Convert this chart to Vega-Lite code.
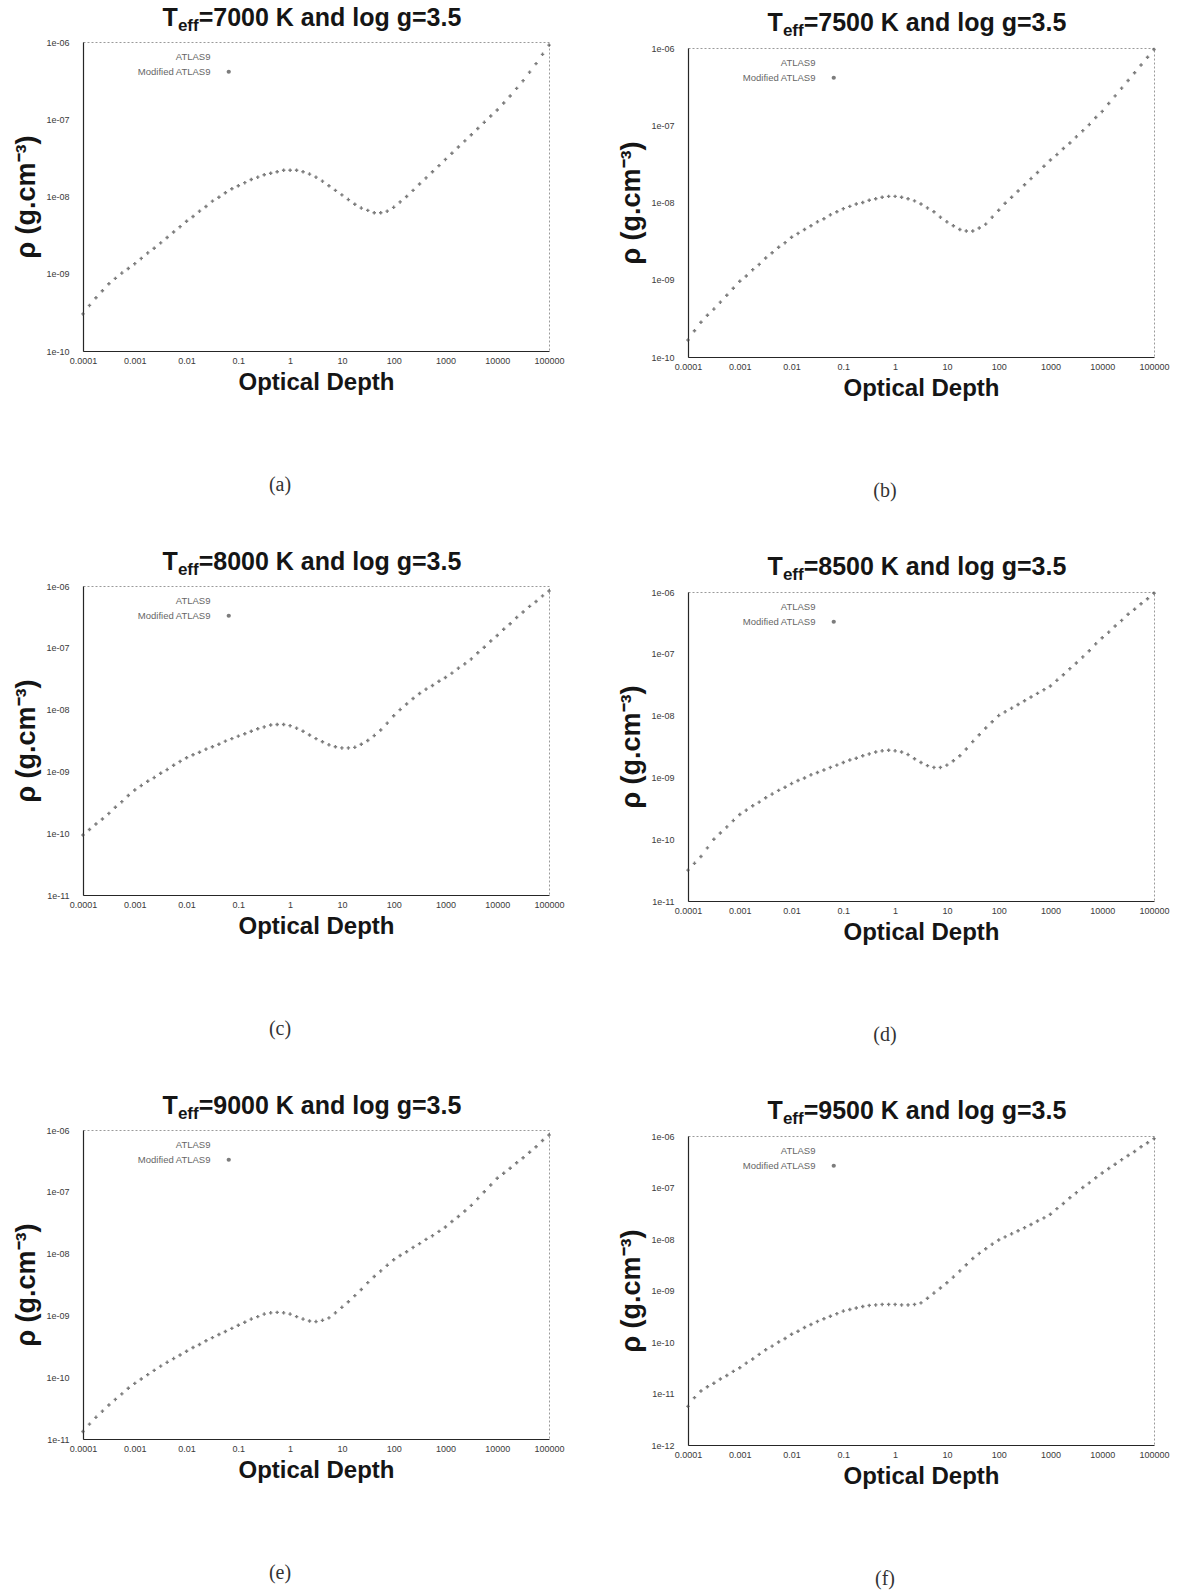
{
  "$schema": "https://vega.github.io/schema/vega-lite/v6.json",
  "background": "white",
  "padding": {"left": 12, "top": 6, "right": 2, "bottom": 2},
  "datasets": {
    "rho": [
      {"tau": 0.0001, "a": 3.02e-10, "b": 1.66e-10, "c": 9.33e-11, "d": 3.16e-11, "e": 1.32e-11, "f": 5.62e-12},
      {"tau": 0.0001334, "a": 3.89e-10, "b": 2.19e-10, "c": 1.15e-10, "d": 4.07e-11, "e": 1.74e-11, "f": 8.32e-12},
      {"tau": 0.0001778, "a": 4.90e-10, "b": 2.82e-10, "c": 1.41e-10, "d": 5.25e-11, "e": 2.24e-11, "f": 1.12e-11},
      {"tau": 0.0002371, "a": 6.03e-10, "b": 3.47e-10, "c": 1.70e-10, "d": 7.24e-11, "e": 2.82e-11, "f": 1.35e-11},
      {"tau": 0.0003162, "a": 7.41e-10, "b": 4.17e-10, "c": 2.09e-10, "d": 1.00e-10, "e": 3.55e-11, "f": 1.58e-11},
      {"tau": 0.0004217, "a": 8.71e-10, "b": 5.13e-10, "c": 2.63e-10, "d": 1.26e-10, "e": 4.37e-11, "f": 1.91e-11},
      {"tau": 0.0005623, "a": 1.02e-9, "b": 6.31e-10, "c": 3.24e-10, "d": 1.58e-10, "e": 5.37e-11, "f": 2.24e-11},
      {"tau": 0.0007499, "a": 1.17e-9, "b": 7.76e-10, "c": 4.07e-10, "d": 2.00e-10, "e": 6.61e-11, "f": 2.69e-11},
      {"tau": 0.001, "a": 1.35e-9, "b": 9.55e-10, "c": 5.01e-10, "d": 2.51e-10, "e": 7.94e-11, "f": 3.16e-11},
      {"tau": 0.001334, "a": 1.58e-9, "b": 1.12e-9, "c": 5.89e-10, "d": 2.95e-10, "e": 9.33e-11, "f": 3.89e-11},
      {"tau": 0.001778, "a": 1.86e-9, "b": 1.35e-9, "c": 6.92e-10, "d": 3.47e-10, "e": 1.10e-10, "f": 4.68e-11},
      {"tau": 0.002371, "a": 2.14e-9, "b": 1.58e-9, "c": 7.94e-10, "d": 3.98e-10, "e": 1.29e-10, "f": 5.75e-11},
      {"tau": 0.003162, "a": 2.51e-9, "b": 1.91e-9, "c": 9.33e-10, "d": 4.68e-10, "e": 1.51e-10, "f": 7.08e-11},
      {"tau": 0.004217, "a": 2.95e-9, "b": 2.24e-9, "c": 1.07e-9, "d": 5.37e-10, "e": 1.74e-10, "f": 8.32e-11},
      {"tau": 0.005623, "a": 3.47e-9, "b": 2.63e-9, "c": 1.26e-9, "d": 6.17e-10, "e": 2.00e-10, "f": 1.00e-10},
      {"tau": 0.007499, "a": 4.07e-9, "b": 3.02e-9, "c": 1.45e-9, "d": 6.92e-10, "e": 2.29e-10, "f": 1.17e-10},
      {"tau": 0.01, "a": 4.79e-9, "b": 3.55e-9, "c": 1.66e-9, "d": 7.94e-10, "e": 2.63e-10, "f": 1.41e-10},
      {"tau": 0.01334, "a": 5.50e-9, "b": 3.98e-9, "c": 1.86e-9, "d": 8.91e-10, "e": 3.02e-10, "f": 1.62e-10},
      {"tau": 0.01778, "a": 6.46e-9, "b": 4.47e-9, "c": 2.04e-9, "d": 9.77e-10, "e": 3.39e-10, "f": 1.91e-10},
      {"tau": 0.02371, "a": 7.41e-9, "b": 5.01e-9, "c": 2.29e-9, "d": 1.10e-9, "e": 3.89e-10, "f": 2.19e-10},
      {"tau": 0.03162, "a": 8.71e-9, "b": 5.62e-9, "c": 2.51e-9, "d": 1.20e-9, "e": 4.37e-10, "f": 2.51e-10},
      {"tau": 0.04217, "a": 9.77e-9, "b": 6.17e-9, "c": 2.75e-9, "d": 1.32e-9, "e": 4.90e-10, "f": 2.82e-10},
      {"tau": 0.05623, "a": 1.12e-8, "b": 6.92e-9, "c": 3.09e-9, "d": 1.45e-9, "e": 5.50e-10, "f": 3.16e-10},
      {"tau": 0.07499, "a": 1.26e-8, "b": 7.59e-9, "c": 3.39e-9, "d": 1.58e-9, "e": 6.17e-10, "f": 3.55e-10},
      {"tau": 0.1, "a": 1.38e-8, "b": 8.32e-9, "c": 3.72e-9, "d": 1.74e-9, "e": 6.92e-10, "f": 3.98e-10},
      {"tau": 0.1334, "a": 1.51e-8, "b": 8.91e-9, "c": 4.07e-9, "d": 1.91e-9, "e": 7.76e-10, "f": 4.27e-10},
      {"tau": 0.1778, "a": 1.66e-8, "b": 9.55e-9, "c": 4.47e-9, "d": 2.04e-9, "e": 8.71e-10, "f": 4.57e-10},
      {"tau": 0.2371, "a": 1.78e-8, "b": 1.00e-8, "c": 4.90e-9, "d": 2.24e-9, "e": 9.55e-10, "f": 4.90e-10},
      {"tau": 0.3162, "a": 1.91e-8, "b": 1.07e-8, "c": 5.25e-9, "d": 2.40e-9, "e": 1.05e-9, "f": 5.13e-10},
      {"tau": 0.4217, "a": 2.00e-8, "b": 1.12e-8, "c": 5.62e-9, "d": 2.57e-9, "e": 1.10e-9, "f": 5.25e-10},
      {"tau": 0.5623, "a": 2.09e-8, "b": 1.17e-8, "c": 5.75e-9, "d": 2.69e-9, "e": 1.12e-9, "f": 5.37e-10},
      {"tau": 0.7499, "a": 2.19e-8, "b": 1.20e-8, "c": 5.75e-9, "d": 2.75e-9, "e": 1.10e-9, "f": 5.37e-10},
      {"tau": 1, "a": 2.19e-8, "b": 1.20e-8, "c": 5.50e-9, "d": 2.69e-9, "e": 1.05e-9, "f": 5.37e-10},
      {"tau": 1.334, "a": 2.19e-8, "b": 1.17e-8, "c": 5.01e-9, "d": 2.57e-9, "e": 9.55e-10, "f": 5.25e-10},
      {"tau": 1.778, "a": 2.09e-8, "b": 1.12e-8, "c": 4.47e-9, "d": 2.34e-9, "e": 8.71e-10, "f": 5.25e-10},
      {"tau": 2.371, "a": 1.95e-8, "b": 1.05e-8, "c": 3.89e-9, "d": 2.00e-9, "e": 8.13e-10, "f": 5.37e-10},
      {"tau": 3.162, "a": 1.78e-8, "b": 9.55e-9, "c": 3.39e-9, "d": 1.74e-9, "e": 7.94e-10, "f": 5.75e-10},
      {"tau": 4.217, "a": 1.58e-8, "b": 8.51e-9, "c": 3.02e-9, "d": 1.55e-9, "e": 8.32e-10, "f": 7.08e-10},
      {"tau": 5.623, "a": 1.38e-8, "b": 7.59e-9, "c": 2.69e-9, "d": 1.45e-9, "e": 9.12e-10, "f": 8.91e-10},
      {"tau": 7.499, "a": 1.20e-8, "b": 6.46e-9, "c": 2.51e-9, "d": 1.45e-9, "e": 1.10e-9, "f": 1.12e-9},
      {"tau": 10, "a": 1.05e-8, "b": 5.62e-9, "c": 2.40e-9, "d": 1.58e-9, "e": 1.35e-9, "f": 1.41e-9},
      {"tau": 13.34, "a": 9.12e-9, "b": 5.01e-9, "c": 2.40e-9, "d": 1.86e-9, "e": 1.66e-9, "f": 1.82e-9},
      {"tau": 17.78, "a": 7.94e-9, "b": 4.47e-9, "c": 2.45e-9, "d": 2.24e-9, "e": 2.09e-9, "f": 2.40e-9},
      {"tau": 23.71, "a": 7.08e-9, "b": 4.27e-9, "c": 2.75e-9, "d": 2.88e-9, "e": 2.63e-9, "f": 3.16e-9},
      {"tau": 31.62, "a": 6.61e-9, "b": 4.27e-9, "c": 3.16e-9, "d": 3.80e-9, "e": 3.39e-9, "f": 4.17e-9},
      {"tau": 42.17, "a": 6.17e-9, "b": 4.68e-9, "c": 3.80e-9, "d": 4.90e-9, "e": 4.27e-9, "f": 5.25e-9},
      {"tau": 56.23, "a": 6.17e-9, "b": 5.25e-9, "c": 4.68e-9, "d": 6.31e-9, "e": 5.25e-9, "f": 6.46e-9},
      {"tau": 74.99, "a": 6.46e-9, "b": 6.46e-9, "c": 6.03e-9, "d": 7.94e-9, "e": 6.46e-9, "f": 7.94e-9},
      {"tau": 100, "a": 7.24e-9, "b": 7.94e-9, "c": 7.94e-9, "d": 1.00e-8, "e": 7.94e-9, "f": 9.55e-9},
      {"tau": 133.4, "a": 8.51e-9, "b": 9.77e-9, "c": 1.00e-8, "d": 1.15e-8, "e": 9.33e-9, "f": 1.10e-8},
      {"tau": 177.8, "a": 1.00e-8, "b": 1.17e-8, "c": 1.23e-8, "d": 1.32e-8, "e": 1.07e-8, "f": 1.26e-8},
      {"tau": 237.1, "a": 1.20e-8, "b": 1.41e-8, "c": 1.51e-8, "d": 1.51e-8, "e": 1.26e-8, "f": 1.45e-8},
      {"tau": 316.2, "a": 1.45e-8, "b": 1.70e-8, "c": 1.82e-8, "d": 1.74e-8, "e": 1.45e-8, "f": 1.66e-8},
      {"tau": 421.7, "a": 1.74e-8, "b": 2.04e-8, "c": 2.14e-8, "d": 2.00e-8, "e": 1.70e-8, "f": 1.91e-8},
      {"tau": 562.3, "a": 2.09e-8, "b": 2.45e-8, "c": 2.45e-8, "d": 2.29e-8, "e": 1.95e-8, "f": 2.24e-8},
      {"tau": 749.9, "a": 2.51e-8, "b": 2.95e-8, "c": 2.88e-8, "d": 2.63e-8, "e": 2.29e-8, "f": 2.57e-8},
      {"tau": 1000, "a": 3.02e-8, "b": 3.55e-8, "c": 3.31e-8, "d": 3.02e-8, "e": 2.69e-8, "f": 3.02e-8},
      {"tau": 1334, "a": 3.63e-8, "b": 4.17e-8, "c": 3.89e-8, "d": 3.72e-8, "e": 3.31e-8, "f": 3.89e-8},
      {"tau": 1778, "a": 4.37e-8, "b": 5.01e-8, "c": 4.68e-8, "d": 4.57e-8, "e": 3.98e-8, "f": 4.90e-8},
      {"tau": 2371, "a": 5.25e-8, "b": 5.89e-8, "c": 5.50e-8, "d": 5.75e-8, "e": 4.90e-8, "f": 6.31e-8},
      {"tau": 3162, "a": 6.31e-8, "b": 7.08e-8, "c": 6.61e-8, "d": 7.08e-8, "e": 6.03e-8, "f": 7.94e-8},
      {"tau": 4217, "a": 7.59e-8, "b": 8.51e-8, "c": 8.32e-8, "d": 8.91e-8, "e": 7.76e-8, "f": 1.00e-7},
      {"tau": 5623, "a": 9.12e-8, "b": 1.02e-7, "c": 1.02e-7, "d": 1.12e-7, "e": 1.00e-7, "f": 1.23e-7},
      {"tau": 7499, "a": 1.10e-7, "b": 1.26e-7, "c": 1.29e-7, "d": 1.45e-7, "e": 1.29e-7, "f": 1.55e-7},
      {"tau": 10000, "a": 1.32e-7, "b": 1.51e-7, "c": 1.58e-7, "d": 1.82e-7, "e": 1.66e-7, "f": 1.91e-7},
      {"tau": 13340, "a": 1.62e-7, "b": 1.91e-7, "c": 2.00e-7, "d": 2.24e-7, "e": 2.00e-7, "f": 2.34e-7},
      {"tau": 17780, "a": 2.00e-7, "b": 2.40e-7, "c": 2.45e-7, "d": 2.82e-7, "e": 2.40e-7, "f": 2.82e-7},
      {"tau": 23710, "a": 2.51e-7, "b": 3.02e-7, "c": 3.09e-7, "d": 3.47e-7, "e": 2.95e-7, "f": 3.47e-7},
      {"tau": 31620, "a": 3.16e-7, "b": 3.80e-7, "c": 3.80e-7, "d": 4.37e-7, "e": 3.55e-7, "f": 4.17e-7},
      {"tau": 42170, "a": 4.07e-7, "b": 4.79e-7, "c": 4.68e-7, "d": 5.25e-7, "e": 4.37e-7, "f": 5.01e-7},
      {"tau": 56230, "a": 5.25e-7, "b": 6.03e-7, "c": 5.62e-7, "d": 6.46e-7, "e": 5.37e-7, "f": 6.17e-7},
      {"tau": 74990, "a": 6.92e-7, "b": 7.59e-7, "c": 6.92e-7, "d": 7.76e-7, "e": 6.76e-7, "f": 7.41e-7},
      {"tau": 100000, "a": 9.12e-7, "b": 9.55e-7, "c": 8.32e-7, "d": 9.55e-7, "e": 8.32e-7, "f": 8.91e-7}
    ]
  },
  "config": {
    "view": {"stroke": null},
    "text": {"font": "Liberation Sans", "fontWeight": "bold", "color": "#151515", "baseline": "middle"},
    "axis": {
      "labelFont": "Liberation Sans", "labelFontSize": 9, "labelColor": "#3a3a3a",
      "labelOverlap": false, "labelBound": false, "labelFlush": false,
      "ticks": false, "grid": false,
      "domainColor": "#262626", "domainWidth": 1.2,
      "titleFont": "Liberation Sans", "titleFontWeight": "bold", "titleFontSize": 24, "titleColor": "#151515"
    },
    "axisX": {"labelPadding": 5, "titlePadding": 5},
    "axisY": {"labelPadding": 14, "titlePadding": 5, "titleFontSize": 27},
    "point": {"shape": "cross", "filled": true, "size": 12}
  },
  "resolve": {"scale": {"color": "independent"}, "legend": {"color": "independent"}},
  "spacing": 48,
  "vconcat": [
    {
      "spacing": 52,
      "resolve": {"scale": {"color": "independent"}, "legend": {"color": "independent"}},
      "hconcat": [
        {
          "spacing": 79,
          "resolve": {"scale": {"color": "independent"}, "legend": {"color": "independent"}},
          "vconcat": [
            {
              "spacing": 3,
              "resolve": {"scale": {"color": "independent"}, "legend": {"color": "independent"}},
              "vconcat": [
                {
                  "width": 466, "height": 24, "view": {"stroke": null},
                  "data": {"values": [{"T": "T", "sub": "eff", "rest": "=7000 K and log g=3.5"}]},
                  "layer": [
                    {"mark": {"type": "text", "align": "left", "dx": -153.4, "fontSize": 25}, "encoding": {"text": {"field": "T"}}},
                    {"mark": {"type": "text", "align": "left", "dx": -138.1, "dy": 8, "fontSize": 17}, "encoding": {"text": {"field": "sub"}}},
                    {"mark": {"type": "text", "align": "left", "dx": -117.3, "fontSize": 25}, "encoding": {"text": {"field": "rest"}}}
                  ]
                },
                {
                  "width": 466, "height": 309,
                  "view": {"stroke": "#9a9a9a", "strokeDash": [2, 2]},
                  "data": {"name": "rho"},
                  "mark": {"type": "point"},
                  "encoding": {
                    "x": {"field": "tau", "type": "quantitative", "scale": {"type": "log", "domain": [0.0001, 100000], "nice": false},
                          "axis": {"values": [0.0001, 0.001, 0.01, 0.1, 1, 10, 100, 1000, 10000, 100000], "format": "~g", "title": "Optical Depth"}},
                    "y": {"field": "a", "type": "quantitative", "scale": {"type": "log", "domain": [1e-10, 1e-6], "nice": false},
                          "axis": {"values": [1e-10, 1e-9, 1e-8, 1e-7, 1e-6], "labelExpr": "'1e-' + (round(-log(datum.value) / LN10) < 10 ? '0' : '') + round(-log(datum.value) / LN10)", "title": "ρ (g.cm⁻³)"}},
                    "color": {"datum": "Modified ATLAS9", "type": "nominal",
                              "scale": {"domain": ["ATLAS9", "Modified ATLAS9"], "range": ["#ffffff", "#454545"]},
                              "legend": {"title": null, "orient": "none", "legendX": 141, "legendY": 10, "labelFont": "Liberation Sans", "labelFontSize": 9.5, "labelColor": "#666666", "labelAlign": "right", "labelOffset": -23, "symbolSize": 18, "rowPadding": 4}}
                  }
                }
              ]
            },
            {
              "width": 394, "height": 22, "view": {"stroke": null},
              "data": {"values": [{"cap": "(a)"}]},
              "mark": {"type": "text", "font": "Liberation Serif", "fontWeight": "normal", "fontSize": 20, "color": "#333333"},
              "encoding": {"text": {"field": "cap"}}
            }
          ]
        },
        {
          "spacing": 79,
          "resolve": {"scale": {"color": "independent"}, "legend": {"color": "independent"}},
          "vconcat": [
            {
              "spacing": 3,
              "resolve": {"scale": {"color": "independent"}, "legend": {"color": "independent"}},
              "vconcat": [
                {
                  "width": 466, "height": 34, "view": {"stroke": null},
                  "data": {"values": [{"T": "T", "sub": "eff", "rest": "=7500 K and log g=3.5"}]},
                  "layer": [
                    {"mark": {"type": "text", "align": "left", "dx": -153.4, "fontSize": 25}, "encoding": {"text": {"field": "T"}}},
                    {"mark": {"type": "text", "align": "left", "dx": -138.1, "dy": 8, "fontSize": 17}, "encoding": {"text": {"field": "sub"}}},
                    {"mark": {"type": "text", "align": "left", "dx": -117.3, "fontSize": 25}, "encoding": {"text": {"field": "rest"}}}
                  ]
                },
                {
                  "width": 466, "height": 309,
                  "view": {"stroke": "#9a9a9a", "strokeDash": [2, 2]},
                  "data": {"name": "rho"},
                  "mark": {"type": "point"},
                  "encoding": {
                    "x": {"field": "tau", "type": "quantitative", "scale": {"type": "log", "domain": [0.0001, 100000], "nice": false},
                          "axis": {"values": [0.0001, 0.001, 0.01, 0.1, 1, 10, 100, 1000, 10000, 100000], "format": "~g", "title": "Optical Depth"}},
                    "y": {"field": "b", "type": "quantitative", "scale": {"type": "log", "domain": [1e-10, 1e-6], "nice": false},
                          "axis": {"values": [1e-10, 1e-9, 1e-8, 1e-7, 1e-6], "labelExpr": "'1e-' + (round(-log(datum.value) / LN10) < 10 ? '0' : '') + round(-log(datum.value) / LN10)", "title": "ρ (g.cm⁻³)"}},
                    "color": {"datum": "Modified ATLAS9", "type": "nominal",
                              "scale": {"domain": ["ATLAS9", "Modified ATLAS9"], "range": ["#ffffff", "#454545"]},
                              "legend": {"title": null, "orient": "none", "legendX": 141, "legendY": 10, "labelFont": "Liberation Sans", "labelFontSize": 9.5, "labelColor": "#666666", "labelAlign": "right", "labelOffset": -23, "symbolSize": 18, "rowPadding": 4}}
                  }
                }
              ]
            },
            {
              "width": 394, "height": 22, "view": {"stroke": null},
              "data": {"values": [{"cap": "(b)"}]},
              "mark": {"type": "text", "font": "Liberation Serif", "fontWeight": "normal", "fontSize": 20, "color": "#333333"},
              "encoding": {"text": {"field": "cap"}}
            }
          ]
        }
      ]
    },
    {
      "spacing": 52,
      "resolve": {"scale": {"color": "independent"}, "legend": {"color": "independent"}},
      "hconcat": [
        {
          "spacing": 79,
          "resolve": {"scale": {"color": "independent"}, "legend": {"color": "independent"}},
          "vconcat": [
            {
              "spacing": 3,
              "resolve": {"scale": {"color": "independent"}, "legend": {"color": "independent"}},
              "vconcat": [
                {
                  "width": 466, "height": 24, "view": {"stroke": null},
                  "data": {"values": [{"T": "T", "sub": "eff", "rest": "=8000 K and log g=3.5"}]},
                  "layer": [
                    {"mark": {"type": "text", "align": "left", "dx": -153.4, "fontSize": 25}, "encoding": {"text": {"field": "T"}}},
                    {"mark": {"type": "text", "align": "left", "dx": -138.1, "dy": 8, "fontSize": 17}, "encoding": {"text": {"field": "sub"}}},
                    {"mark": {"type": "text", "align": "left", "dx": -117.3, "fontSize": 25}, "encoding": {"text": {"field": "rest"}}}
                  ]
                },
                {
                  "width": 466, "height": 309,
                  "view": {"stroke": "#9a9a9a", "strokeDash": [2, 2]},
                  "data": {"name": "rho"},
                  "mark": {"type": "point"},
                  "encoding": {
                    "x": {"field": "tau", "type": "quantitative", "scale": {"type": "log", "domain": [0.0001, 100000], "nice": false},
                          "axis": {"values": [0.0001, 0.001, 0.01, 0.1, 1, 10, 100, 1000, 10000, 100000], "format": "~g", "title": "Optical Depth"}},
                    "y": {"field": "c", "type": "quantitative", "scale": {"type": "log", "domain": [1e-11, 1e-6], "nice": false},
                          "axis": {"values": [1e-11, 1e-10, 1e-9, 1e-8, 1e-7, 1e-6], "labelExpr": "'1e-' + (round(-log(datum.value) / LN10) < 10 ? '0' : '') + round(-log(datum.value) / LN10)", "title": "ρ (g.cm⁻³)"}},
                    "color": {"datum": "Modified ATLAS9", "type": "nominal",
                              "scale": {"domain": ["ATLAS9", "Modified ATLAS9"], "range": ["#ffffff", "#454545"]},
                              "legend": {"title": null, "orient": "none", "legendX": 141, "legendY": 10, "labelFont": "Liberation Sans", "labelFontSize": 9.5, "labelColor": "#666666", "labelAlign": "right", "labelOffset": -23, "symbolSize": 18, "rowPadding": 4}}
                  }
                }
              ]
            },
            {
              "width": 394, "height": 22, "view": {"stroke": null},
              "data": {"values": [{"cap": "(c)"}]},
              "mark": {"type": "text", "font": "Liberation Serif", "fontWeight": "normal", "fontSize": 20, "color": "#333333"},
              "encoding": {"text": {"field": "cap"}}
            }
          ]
        },
        {
          "spacing": 79,
          "resolve": {"scale": {"color": "independent"}, "legend": {"color": "independent"}},
          "vconcat": [
            {
              "spacing": 3,
              "resolve": {"scale": {"color": "independent"}, "legend": {"color": "independent"}},
              "vconcat": [
                {
                  "width": 466, "height": 34, "view": {"stroke": null},
                  "data": {"values": [{"T": "T", "sub": "eff", "rest": "=8500 K and log g=3.5"}]},
                  "layer": [
                    {"mark": {"type": "text", "align": "left", "dx": -153.4, "fontSize": 25}, "encoding": {"text": {"field": "T"}}},
                    {"mark": {"type": "text", "align": "left", "dx": -138.1, "dy": 8, "fontSize": 17}, "encoding": {"text": {"field": "sub"}}},
                    {"mark": {"type": "text", "align": "left", "dx": -117.3, "fontSize": 25}, "encoding": {"text": {"field": "rest"}}}
                  ]
                },
                {
                  "width": 466, "height": 309,
                  "view": {"stroke": "#9a9a9a", "strokeDash": [2, 2]},
                  "data": {"name": "rho"},
                  "mark": {"type": "point"},
                  "encoding": {
                    "x": {"field": "tau", "type": "quantitative", "scale": {"type": "log", "domain": [0.0001, 100000], "nice": false},
                          "axis": {"values": [0.0001, 0.001, 0.01, 0.1, 1, 10, 100, 1000, 10000, 100000], "format": "~g", "title": "Optical Depth"}},
                    "y": {"field": "d", "type": "quantitative", "scale": {"type": "log", "domain": [1e-11, 1e-6], "nice": false},
                          "axis": {"values": [1e-11, 1e-10, 1e-9, 1e-8, 1e-7, 1e-6], "labelExpr": "'1e-' + (round(-log(datum.value) / LN10) < 10 ? '0' : '') + round(-log(datum.value) / LN10)", "title": "ρ (g.cm⁻³)"}},
                    "color": {"datum": "Modified ATLAS9", "type": "nominal",
                              "scale": {"domain": ["ATLAS9", "Modified ATLAS9"], "range": ["#ffffff", "#454545"]},
                              "legend": {"title": null, "orient": "none", "legendX": 141, "legendY": 10, "labelFont": "Liberation Sans", "labelFontSize": 9.5, "labelColor": "#666666", "labelAlign": "right", "labelOffset": -23, "symbolSize": 18, "rowPadding": 4}}
                  }
                }
              ]
            },
            {
              "width": 394, "height": 22, "view": {"stroke": null},
              "data": {"values": [{"cap": "(d)"}]},
              "mark": {"type": "text", "font": "Liberation Serif", "fontWeight": "normal", "fontSize": 20, "color": "#333333"},
              "encoding": {"text": {"field": "cap"}}
            }
          ]
        }
      ]
    },
    {
      "spacing": 52,
      "resolve": {"scale": {"color": "independent"}, "legend": {"color": "independent"}},
      "hconcat": [
        {
          "spacing": 79,
          "resolve": {"scale": {"color": "independent"}, "legend": {"color": "independent"}},
          "vconcat": [
            {
              "spacing": 3,
              "resolve": {"scale": {"color": "independent"}, "legend": {"color": "independent"}},
              "vconcat": [
                {
                  "width": 466, "height": 24, "view": {"stroke": null},
                  "data": {"values": [{"T": "T", "sub": "eff", "rest": "=9000 K and log g=3.5"}]},
                  "layer": [
                    {"mark": {"type": "text", "align": "left", "dx": -153.4, "fontSize": 25}, "encoding": {"text": {"field": "T"}}},
                    {"mark": {"type": "text", "align": "left", "dx": -138.1, "dy": 8, "fontSize": 17}, "encoding": {"text": {"field": "sub"}}},
                    {"mark": {"type": "text", "align": "left", "dx": -117.3, "fontSize": 25}, "encoding": {"text": {"field": "rest"}}}
                  ]
                },
                {
                  "width": 466, "height": 309,
                  "view": {"stroke": "#9a9a9a", "strokeDash": [2, 2]},
                  "data": {"name": "rho"},
                  "mark": {"type": "point"},
                  "encoding": {
                    "x": {"field": "tau", "type": "quantitative", "scale": {"type": "log", "domain": [0.0001, 100000], "nice": false},
                          "axis": {"values": [0.0001, 0.001, 0.01, 0.1, 1, 10, 100, 1000, 10000, 100000], "format": "~g", "title": "Optical Depth"}},
                    "y": {"field": "e", "type": "quantitative", "scale": {"type": "log", "domain": [1e-11, 1e-6], "nice": false},
                          "axis": {"values": [1e-11, 1e-10, 1e-9, 1e-8, 1e-7, 1e-6], "labelExpr": "'1e-' + (round(-log(datum.value) / LN10) < 10 ? '0' : '') + round(-log(datum.value) / LN10)", "title": "ρ (g.cm⁻³)"}},
                    "color": {"datum": "Modified ATLAS9", "type": "nominal",
                              "scale": {"domain": ["ATLAS9", "Modified ATLAS9"], "range": ["#ffffff", "#454545"]},
                              "legend": {"title": null, "orient": "none", "legendX": 141, "legendY": 10, "labelFont": "Liberation Sans", "labelFontSize": 9.5, "labelColor": "#666666", "labelAlign": "right", "labelOffset": -23, "symbolSize": 18, "rowPadding": 4}}
                  }
                }
              ]
            },
            {
              "width": 394, "height": 22, "view": {"stroke": null},
              "data": {"values": [{"cap": "(e)"}]},
              "mark": {"type": "text", "font": "Liberation Serif", "fontWeight": "normal", "fontSize": 20, "color": "#333333"},
              "encoding": {"text": {"field": "cap"}}
            }
          ]
        },
        {
          "spacing": 79,
          "resolve": {"scale": {"color": "independent"}, "legend": {"color": "independent"}},
          "vconcat": [
            {
              "spacing": 3,
              "resolve": {"scale": {"color": "independent"}, "legend": {"color": "independent"}},
              "vconcat": [
                {
                  "width": 466, "height": 34, "view": {"stroke": null},
                  "data": {"values": [{"T": "T", "sub": "eff", "rest": "=9500 K and log g=3.5"}]},
                  "layer": [
                    {"mark": {"type": "text", "align": "left", "dx": -153.4, "fontSize": 25}, "encoding": {"text": {"field": "T"}}},
                    {"mark": {"type": "text", "align": "left", "dx": -138.1, "dy": 8, "fontSize": 17}, "encoding": {"text": {"field": "sub"}}},
                    {"mark": {"type": "text", "align": "left", "dx": -117.3, "fontSize": 25}, "encoding": {"text": {"field": "rest"}}}
                  ]
                },
                {
                  "width": 466, "height": 309,
                  "view": {"stroke": "#9a9a9a", "strokeDash": [2, 2]},
                  "data": {"name": "rho"},
                  "mark": {"type": "point"},
                  "encoding": {
                    "x": {"field": "tau", "type": "quantitative", "scale": {"type": "log", "domain": [0.0001, 100000], "nice": false},
                          "axis": {"values": [0.0001, 0.001, 0.01, 0.1, 1, 10, 100, 1000, 10000, 100000], "format": "~g", "title": "Optical Depth"}},
                    "y": {"field": "f", "type": "quantitative", "scale": {"type": "log", "domain": [1e-12, 1e-6], "nice": false},
                          "axis": {"values": [1e-12, 1e-11, 1e-10, 1e-9, 1e-8, 1e-7, 1e-6], "labelExpr": "'1e-' + (round(-log(datum.value) / LN10) < 10 ? '0' : '') + round(-log(datum.value) / LN10)", "title": "ρ (g.cm⁻³)"}},
                    "color": {"datum": "Modified ATLAS9", "type": "nominal",
                              "scale": {"domain": ["ATLAS9", "Modified ATLAS9"], "range": ["#ffffff", "#454545"]},
                              "legend": {"title": null, "orient": "none", "legendX": 141, "legendY": 10, "labelFont": "Liberation Sans", "labelFontSize": 9.5, "labelColor": "#666666", "labelAlign": "right", "labelOffset": -23, "symbolSize": 18, "rowPadding": 4}}
                  }
                }
              ]
            },
            {
              "width": 394, "height": 22, "view": {"stroke": null},
              "data": {"values": [{"cap": "(f)"}]},
              "mark": {"type": "text", "font": "Liberation Serif", "fontWeight": "normal", "fontSize": 20, "color": "#333333"},
              "encoding": {"text": {"field": "cap"}}
            }
          ]
        }
      ]
    }
  ]
}
